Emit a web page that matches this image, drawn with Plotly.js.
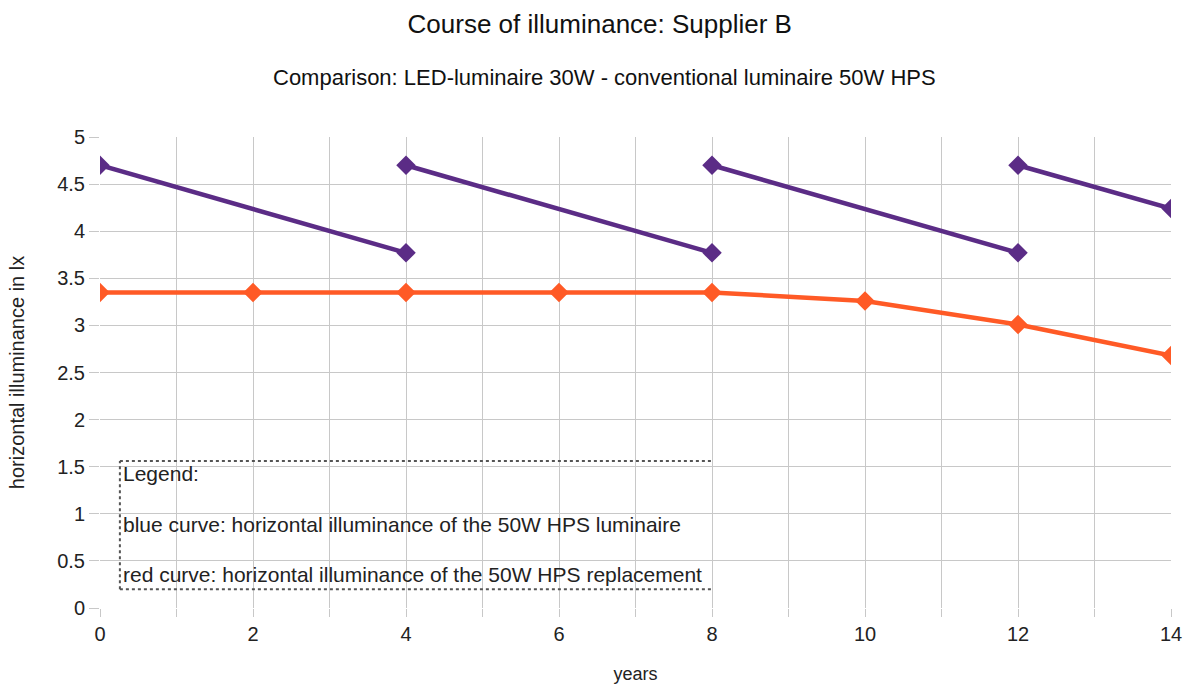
<!DOCTYPE html>
<html><head><meta charset="utf-8">
<script src="https://cdn.plot.ly/plotly-3.0.1.min.js"></script>
<style>html,body{margin:0;padding:0;background:#fff}#chart{width:1190px;height:684px}</style>
</head><body><div id="chart"></div>
<script>
// HPS luminaire (purple) – drops after each 4-year relamping cycle
const hpsYears = [0, 4, 4, 4, 8, 8, 8, 12, 12, 12, 14];
const hpsValues = [4.70, 3.77, null, 4.70, 3.77, null, 4.70, 3.77, null, 4.70, 4.24];
// LED replacement (orange)
const ledYears = [0, 2, 4, 6, 8, 10, 12, 14];
const ledValues = [3.35, 3.35, 3.35, 3.35, 3.35, 3.26, 3.01, 2.68];
const legendLines = ["Legend:", "blue curve: horizontal illuminance of the 50W HPS luminaire", "red curve: horizontal illuminance of the 50W HPS replacement"];
const legendY = [1.43, 0.89, 0.36];

const FONT = "Liberation Sans, Arial, sans-serif";
const traces = [
  {x: hpsYears, y: hpsValues, mode: "lines+markers", connectgaps: false,
   line: {color: "#5b2c86", width: 4.5}, marker: {symbol: "diamond", size: 15, color: "#5b2c86"}},
  {x: ledYears, y: ledValues, mode: "lines+markers",
   line: {color: "#ff5a26", width: 4.5}, marker: {symbol: "diamond", size: 15, color: "#ff5a26"}}
];
const annotations = legendLines.map((t, i) => ({
  x: 0.28, y: legendY[i], xref: "x", yref: "y", text: t, showarrow: false,
  xanchor: "left", yanchor: "middle", font: {family: FONT, size: 21, color: "#222"}
}));
annotations.push({x: 0.4715, y: 1, xref: "paper", yref: "paper", yshift: 60, text: "Comparison: LED-luminaire 30W - conventional luminaire 50W HPS",
  showarrow: false, xanchor: "center", yanchor: "middle", font: {family: FONT, size: 22, color: "#111"}});
const dot = {color: "#555", width: 2, dash: "dot"};
const layout = {
  width: 1190, height: 684,
  margin: {l: 100, r: 19, t: 137, b: 76},
  paper_bgcolor: "#fff", plot_bgcolor: "#fff",
  showlegend: false,
  font: {family: FONT, color: "#222"},
  title: {text: "Course of illuminance: Supplier B", x: 0.504, xanchor: "center", y: 0.965, yanchor: "middle",
    font: {family: FONT, size: 26, color: "#111"}},
  xaxis: {range: [0, 14], dtick: 2, tick0: 0, showgrid: true, gridcolor: "#c8c8c8", gridwidth: 1,
    zeroline: false, showline: false, ticks: "outside", ticklen: 8, tickcolor: "#c8c8c8",
    minor: {dtick: 1, showgrid: true, gridcolor: "#c8c8c8", ticks: "outside", ticklen: 8, tickcolor: "#c8c8c8"},
    tickfont: {family: FONT, size: 20, color: "#222"},
    title: {text: "years", font: {family: FONT, size: 18, color: "#222"}, standoff: 28}},
  yaxis: {range: [0, 5], dtick: 0.5, tick0: 0, showgrid: true, gridcolor: "#c8c8c8", gridwidth: 1,
    zeroline: false, showline: false, ticks: "outside", ticklen: 10, tickcolor: "#c8c8c8",
    tickfont: {family: FONT, size: 20, color: "#222"},
    title: {text: "horizontal illuminance in lx", font: {family: FONT, size: 20, color: "#222"}, standoff: 27}},
  shapes: [
    {type: "line", xref: "x", yref: "y", x0: 0.26, x1: 8.0, y0: 1.56, y1: 1.56, line: dot},
    {type: "line", xref: "x", yref: "y", x0: 0.26, x1: 8.0, y0: 0.2, y1: 0.2, line: dot},
    {type: "line", xref: "x", yref: "y", x0: 0.26, x1: 0.26, y0: 0.2, y1: 1.56, line: dot}
  ],
  annotations: annotations
};
Plotly.newPlot("chart", traces, layout, {displayModeBar: false, staticPlot: true});
</script></body></html>
